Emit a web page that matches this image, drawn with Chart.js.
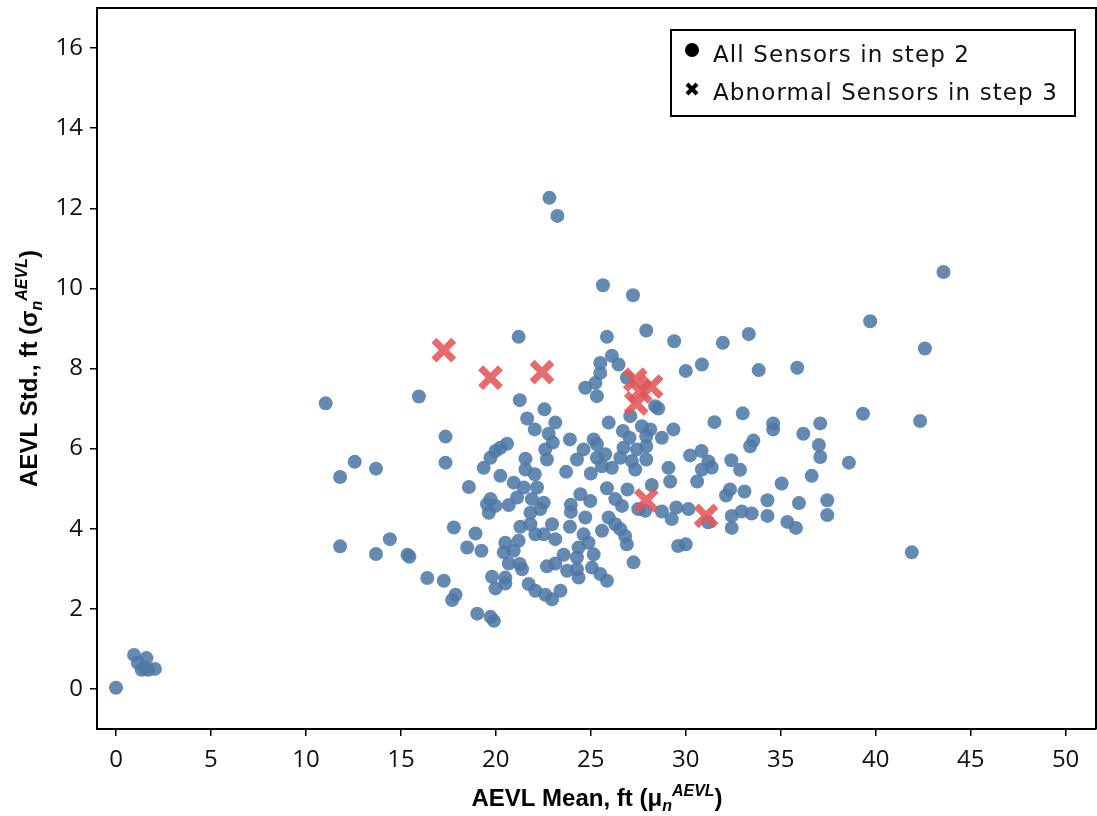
<!DOCTYPE html>
<html>
<head>
<meta charset="utf-8">
<script src="https://cdn.jsdelivr.net/npm/chart.js@4.4.0/dist/chart.umd.min.js"></script>
<style>
  html, body { margin: 0; padding: 0; background: #ffffff; }
  canvas { display: block; }
</style>
</head>
<body>
<canvas id="chart" width="1097" height="816"></canvas>
<script>
// Axis ticks
const xTickValues = [0, 5, 10, 15, 20, 25, 30, 35, 40, 45, 50];
const yTickValues = [0, 2, 4, 6, 8, 10, 12, 14, 16];

// Series names
const seriesLabels = ['All Sensors in step 2', 'Abnormal Sensors in step 3'];

// All sensors (step 2): AEVL mean and AEVL std, ft
const allMean = [
  0.0, 0.95, 1.6, 1.15, 1.35, 1.7, 2.05, 1.5,
  11.04, 11.8, 11.8, 12.57, 13.69, 15.95, 14.42, 13.69, 15.35, 15.45, 19.9,
  21.2, 21.26, 22.56, 21.65, 22.05, 23.13, 22.78, 23.0, 22.6, 22.69, 23.9,
  21.56, 21.56, 17.35, 17.35, 20.59, 20.24, 19.98, 19.72, 19.36, 22.05, 23.7,
  18.58, 20.24, 20.94, 22.17, 21.47, 21.12, 21.9, 22.52, 22.34, 19.72, 19.54,
  19.98, 19.63, 20.68, 21.82, 21.29, 21.82, 22.08, 22.52, 22.96, 23.13, 23.95,
  23.95, 23.9, 17.79, 18.93, 18.49, 19.24, 20.5, 21.2, 20.42, 20.94, 20.68,
  21.26, 21.38, 22.69, 23.13, 23.57, 23.75, 16.39, 17.26, 17.88, 17.7, 19.8,
  20.5, 20.5, 19.98, 21.73, 22.08, 22.6, 22.96, 23.4, 19.02, 19.72,
  25.85, 27.92, 29.39, 26.11, 26.46, 25.5, 25.5, 25.24, 24.71, 25.32, 30.0,
  26.9, 28.39, 28.55, 27.08, 25.94, 27.69, 28.13, 29.35, 28.74, 26.69, 27.04,
  27.92, 25.15, 25.32, 24.62, 26.72, 27.92, 27.43, 25.76, 25.32, 24.27, 26.55,
  27.16, 27.92, 25.59, 26.11, 25.0, 27.34, 29.09, 30.23,
  22.82, 23.24, 25.64, 27.22,
  25.85, 26.93, 24.45, 24.97, 26.29, 26.64, 28.21, 29.18, 30.6, 27.5, 27.86,
  28.74, 29.26, 29.5, 30.14, 24.71, 25.94, 26.29, 26.55, 26.81, 26.9, 24.62,
  25.59, 24.88, 24.36, 25.15, 24.27, 25.06, 24.27, 25.5, 25.85, 24.36, 27.25,
  29.6, 30.0, 31.18,
  43.57, 39.71, 42.59, 33.32, 31.95, 30.85, 33.84, 35.87, 39.33, 42.34, 33.0,
  31.51, 34.6, 34.6, 37.08, 36.19, 33.56, 33.39, 37.01, 37.08, 38.59, 32.4,
  32.86, 30.83, 31.19, 31.37, 30.85, 36.63, 35.05, 32.33, 32.12, 33.09, 34.3,
  35.96, 37.45, 37.45, 32.42, 32.95, 33.47, 34.3, 35.35, 35.8, 32.42, 41.9
];
const allStd = [
  0.03, 0.85, 0.77, 0.65, 0.48, 0.48, 0.5, 0.52,
  7.13, 3.56, 5.29, 5.67, 5.5, 7.3, 3.74, 3.37, 3.35, 3.3, 1.7,
  8.79, 7.21, 6.98, 6.75, 6.48, 6.65, 6.37, 6.15, 5.98, 5.73, 6.23,
  5.75, 5.48, 6.3, 5.65, 6.12, 6.02, 5.94, 5.77, 5.52, 5.36, 5.42,
  5.04, 5.32, 5.15, 5.03, 5.03, 4.78, 4.74, 4.65, 4.49, 4.74, 4.61,
  4.57, 4.4, 4.59, 4.4, 4.05, 4.11, 3.86, 3.86, 4.11, 3.74, 4.6,
  4.42, 4.05, 4.03, 3.88, 3.53, 3.45, 3.65, 3.7, 3.41, 3.45, 3.13,
  3.12, 2.99, 3.06, 3.13, 3.35, 2.95, 2.77, 2.7, 2.35, 2.22, 2.8,
  2.78, 2.63, 2.51, 2.62, 2.45, 2.35, 2.24, 2.45, 1.88, 1.8,
  8.79, 8.95, 8.68, 8.32, 8.1, 8.14, 7.89, 7.64, 7.52, 7.31, 7.94,
  7.77, 7.06, 7.0, 6.81, 6.65, 6.56, 6.48, 6.48, 6.27, 6.44, 6.27,
  6.31, 6.23, 6.11, 5.98, 6.02, 6.06, 5.98, 5.86, 5.77, 5.73, 5.77,
  5.69, 5.73, 5.56, 5.52, 5.38, 5.48, 5.52, 5.83,
  12.26, 11.81, 10.08, 9.83,
  5.01, 4.98, 4.86, 4.69, 4.74, 4.57, 5.09, 5.18, 5.18, 4.49, 4.45,
  4.43, 4.24, 4.53, 4.49, 4.28, 4.28, 4.11, 3.99, 3.82, 3.61, 3.86,
  3.95, 3.65, 3.53, 3.36, 3.28, 3.03, 2.99, 2.87, 2.7, 2.78, 3.16,
  3.57, 3.61, 4.16,
  10.41, 9.18, 8.5, 8.86, 8.64, 8.1, 7.96, 8.02, 6.87, 6.69, 6.88,
  6.66, 6.63, 6.48, 6.63, 6.37, 6.2, 6.06, 6.09, 5.79, 5.65, 5.71,
  5.47, 5.94, 5.68, 5.53, 5.48, 5.32, 5.13, 4.98, 4.83, 4.93, 4.71,
  4.64, 4.71, 4.34, 4.32, 4.43, 4.38, 4.32, 4.17, 4.02, 4.02, 3.41
];

// Abnormal sensors (step 3)
const abnormalMean = [17.26, 19.72, 22.43, 27.34, 28.18, 27.39, 27.6, 27.92, 31.07];
const abnormalStd  = [8.46, 7.77, 7.91, 7.72, 7.55, 7.13, 7.43, 4.71, 4.32];

// Axis titles, split into plain / subscript / superscript runs
const xTitleRuns = [
  { text: 'AEVL Mean, ft (\u03bc' },
  { text: 'n', sub: true },
  { text: 'AEVL', sup: true },
  { text: ')' }
];
const yTitleRuns = [
  { text: 'AEVL Std., ft (\u03c3' },
  { text: 'n', sub: true },
  { text: 'AEVL', sup: true },
  { text: ')' }
];

const allPoints = allMean.map((m, i) => ({ x: m, y: allStd[i] }));
const abnormalPoints = abnormalMean.map((m, i) => ({ x: m, y: abnormalStd[i] }));

const TITLE_FAMILY = "'Liberation Sans', Arial, sans-serif";
const TEXT_FAMILY = "'Open Sans', 'Noto Sans', sans-serif";
const LEGEND_FAMILY = "'DejaVu Sans', 'Open Sans', sans-serif";

function runFont(run) {
  if (run.sub || run.sup) return 'italic bold 16px ' + TITLE_FAMILY;
  return 'bold 24px ' + TITLE_FAMILY;
}
function runShift(run) {
  if (run.sub) return 5;
  if (run.sup) return -10;
  return 0;
}
function drawRuns(ctx, runs, cx, baseline) {
  let total = 0;
  const widths = runs.map(r => { ctx.font = runFont(r); const w = ctx.measureText(r.text).width; total += w; return w; });
  let x = cx - total / 2;
  runs.forEach((r, i) => {
    ctx.font = runFont(r);
    ctx.fillText(r.text, x, baseline + runShift(r));
    x += widths[i];
  });
}

// Top and right edges of the plot frame
const framePlugin = {
  id: 'frame',
  afterDraw(chart) {
    const { ctx, chartArea: a } = chart;
    ctx.save();
    ctx.strokeStyle = '#000';
    ctx.lineWidth = 2;
    ctx.beginPath();
    ctx.moveTo(a.left, a.top);
    ctx.lineTo(a.right, a.top);
    ctx.lineTo(a.right, a.bottom);
    ctx.stroke();
    ctx.restore();
  }
};

// Axis titles with sub/superscripts
const titlePlugin = {
  id: 'axisTitles',
  afterDraw(chart) {
    const { ctx, chartArea: a } = chart;
    ctx.save();
    ctx.fillStyle = '#000';
    ctx.textBaseline = 'alphabetic';
    ctx.textAlign = 'left';
    drawRuns(ctx, xTitleRuns, 597, 806);
    ctx.translate(37, (a.top + a.bottom) / 2);
    ctx.rotate(-Math.PI / 2);
    drawRuns(ctx, yTitleRuns, 0, 0);
    ctx.restore();
  }
};

// Boxed legend in the upper right of the plot
const boxLegendPlugin = {
  id: 'boxLegend',
  afterDraw(chart) {
    const { ctx } = chart;
    const box = { left: 671, top: 30, right: 1075, bottom: 116 };
    ctx.save();
    ctx.fillStyle = '#fff';
    ctx.fillRect(box.left, box.top, box.right - box.left, box.bottom - box.top);
    ctx.strokeStyle = '#000';
    ctx.lineWidth = 2;
    ctx.strokeRect(box.left, box.top, box.right - box.left, box.bottom - box.top);

    // circle marker
    ctx.fillStyle = '#000';
    ctx.beginPath();
    ctx.arc(692, 50, 7, 0, Math.PI * 2);
    ctx.fill();
    // cross marker
    ctx.strokeStyle = '#000';
    ctx.lineWidth = 4;
    const cx = 692, cy = 89, h = 5;
    ctx.beginPath();
    ctx.moveTo(cx - h, cy - h); ctx.lineTo(cx + h, cy + h);
    ctx.moveTo(cx + h, cy - h); ctx.lineTo(cx - h, cy + h);
    ctx.stroke();

    ctx.fillStyle = '#111';
    ctx.font = '23px ' + LEGEND_FAMILY;
    if ('letterSpacing' in ctx) ctx.letterSpacing = '1.1px';
    ctx.textBaseline = 'alphabetic';
    ctx.textAlign = 'left';
    ctx.fillText(chart.data.datasets[0].label, 713, 62);
    ctx.fillText(chart.data.datasets[1].label, 713, 100);
    ctx.restore();
  }
};

const tickFont = { family: TEXT_FAMILY, size: 24 };

new Chart(document.getElementById('chart'), {
  type: 'scatter',
  data: {
    datasets: [
      {
        label: seriesLabels[0],
        data: allPoints,
        pointStyle: 'circle',
        pointRadius: 7,
        pointHoverRadius: 7,
        backgroundColor: 'rgba(78,121,167,0.87)',
        borderWidth: 0,
        order: 2
      },
      {
        label: seriesLabels[1],
        data: abnormalPoints,
        pointStyle: 'crossRot',
        pointRadius: 14,
        pointHoverRadius: 14,
        borderColor: 'rgba(225,87,89,0.88)',
        backgroundColor: 'rgba(0,0,0,0)',
        borderWidth: 7,
        order: 1
      }
    ]
  },
  options: {
    responsive: false,
    animation: false,
    devicePixelRatio: 1,
    events: [],
    layout: { autoPadding: false, padding: { top: 8, right: 1, left: 0, bottom: 0 } },
    plugins: { legend: { display: false }, tooltip: { enabled: false }, title: { display: false } },
    scales: {
      x: {
        type: 'linear',
        min: -1,
        max: 51.6,
        afterBuildTicks: s => { s.ticks = xTickValues.map(v => ({ value: v })); },
        afterFit: s => { s.height = 87; s.paddingLeft = 0; s.paddingRight = 0; },
        ticks: { font: tickFont, color: '#111', padding: 10, maxRotation: 0, autoSkip: false },
        grid: { display: true, drawOnChartArea: false, drawTicks: true, tickLength: 7, color: '#000', lineWidth: 1.5 },
        border: { display: true, color: '#000', width: 2 }
      },
      y: {
        type: 'linear',
        min: -1,
        max: 17,
        afterBuildTicks: s => { s.ticks = yTickValues.map(v => ({ value: v })); },
        afterFit: s => { s.width = 97; s.paddingTop = 0; s.paddingBottom = 0; },
        ticks: { font: tickFont, color: '#111', padding: 7, autoSkip: false },
        grid: { display: true, drawOnChartArea: false, drawTicks: true, tickLength: 7, color: '#000', lineWidth: 1.5 },
        border: { display: true, color: '#000', width: 2 }
      }
    }
  },
  plugins: [framePlugin, titlePlugin, boxLegendPlugin]
});
</script>
</body>
</html>
